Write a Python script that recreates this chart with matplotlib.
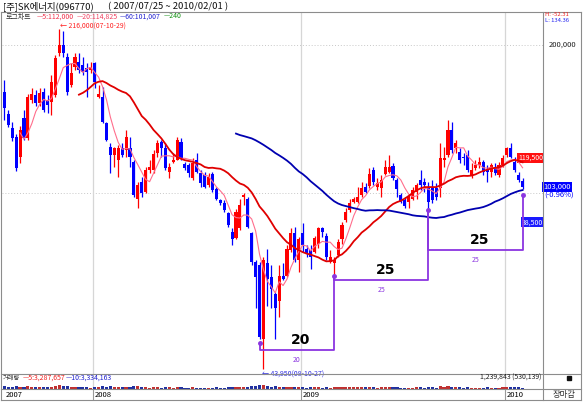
import numpy as np
import pandas as pd
import matplotlib
matplotlib.use("Agg")
import matplotlib.pyplot as plt
from matplotlib.lines import Line2D
from matplotlib.patches import Rectangle
from matplotlib.transforms import blended_transform_factory

plt.rcParams['font.family'] = ['Noto Sans CJK KR', 'DejaVu Sans']

# weekly candles, 2007/07/23 week .. 2010/02/01 week
opens = [160500, 145000, 135500, 130000, 118500, 142000, 129500, 154500, 158500, 152500,
         160500, 154500, 153000, 158500, 192500, 200000, 189000, 166000, 180500, 185000,
         182000, 179500, 178000, 184000, 157000, 157000, 139000, 124000, 119500, 116500,
         123500, 122500, 123500, 115500, 97500, 105500, 100500, 111500, 111500, 120500,
         127000, 123500, 110500, 115500, 117000, 127000, 114500, 114000, 107500, 116500,
         110000, 109000, 104000, 109500, 102000, 97000, 95500, 91000, 83500, 81000,
         85000, 98000, 97500, 83000, 72500, 71500, 50500, 72000, 67500, 62500,
         60500, 68000, 68000, 76500, 83000, 73000, 83000, 77000, 76500, 76000,
         79000, 85000, 82000, 72500, 72000, 75000, 80500, 88000, 92500, 96000,
         96000, 99000, 103000, 103500, 111500, 103000, 102500, 109500, 110500, 113500,
         106500, 99000, 97000, 96000, 97500, 100500, 106500, 105500, 103000, 102500,
         102500, 102500, 116500, 119500, 134500, 123500, 121000, 118500, 119500, 109000,
         112500, 114000, 115500, 111500, 110500, 113000, 109000, 114000, 119500, 123500,
         115500, 109000, 106000]
highs = [170000, 147500, 139500, 132000, 137000, 147500, 159000, 163500, 162000, 163500,
         163500, 158500, 174000, 191000, 216000, 213500, 192500, 184000, 192500, 192500,
         189000, 184000, 185000, 185000, 166000, 164500, 139500, 126500, 124000, 125000,
         126500, 134500, 130000, 116500, 105500, 108000, 113000, 116500, 122500, 128000,
         128000, 126500, 115000, 120500, 130000, 129500, 115500, 115000, 118000, 120500,
         111500, 110500, 110000, 110500, 103000, 97500, 97000, 91500, 85000, 93000,
         97500, 100000, 98000, 83500, 73000, 72500, 74000, 77000, 71500, 63000,
         71500, 72000, 78500, 85000, 85500, 81500, 87000, 78500, 78500, 82000,
         85500, 85500, 83000, 76500, 74000, 80500, 87500, 93500, 97500, 98000,
         103000, 105500, 105000, 112500, 113000, 107500, 109000, 116500, 119500, 115000,
         107500, 100000, 98000, 99000, 103000, 105000, 111500, 107500, 105500, 106500,
         105000, 126500, 124000, 141000, 139500, 128000, 123500, 120500, 122500, 115000,
         116500, 118500, 116500, 114000, 115000, 115000, 115500, 119500, 124000, 126500,
         118500, 110500, 107500]
lows = [141000, 136000, 127500, 111000, 115000, 128000, 128000, 152500, 150500, 150500,
        146000, 145500, 144000, 157000, 190000, 189000, 158500, 164500, 178000, 175500,
        174000, 157000, 175500, 163500, 156000, 139000, 127500, 110000, 113000, 108000,
        118500, 118500, 113000, 98000, 93500, 98000, 100000, 110000, 110000, 118500,
        118500, 111500, 107500, 115000, 116500, 116500, 111500, 108000, 106500, 110000,
        103000, 102500, 103000, 100500, 97000, 94500, 91500, 85500, 78500, 80500,
        84000, 94500, 85000, 71500, 58500, 50500, 43950, 59000, 58500, 50500,
        56000, 66500, 67500, 76000, 72500, 69000, 76000, 74000, 70000, 75500,
        77500, 81500, 73000, 72000, 68000, 74000, 79000, 87500, 91500, 95500,
        95500, 98000, 100000, 102500, 104000, 101500, 98000, 109000, 110000, 106500,
        98000, 95500, 93500, 93500, 97000, 97500, 101500, 100500, 92500, 95500,
        97000, 98000, 113000, 118500, 120500, 120500, 115000, 114000, 110500, 107500,
        111500, 112500, 109000, 105500, 108000, 109000, 108000, 113000, 118500, 118000,
        110500, 105500, 102000]
closes = [149000, 137500, 129500, 112500, 134500, 129500, 157000, 159000, 152500, 159500,
          147500, 151000, 168000, 188000, 200000, 192500, 160500, 175500, 189000, 178000,
          176500, 176500, 180500, 168000, 159000, 139500, 128000, 119500, 123500, 123500,
          119500, 130000, 118500, 99000, 104000, 100000, 111500, 113000, 120000, 126500,
          123500, 112500, 113000, 117000, 128000, 118000, 112500, 110000, 115000, 110500,
          105000, 103000, 108000, 101500, 97500, 95500, 92500, 86000, 80500, 91500,
          94500, 99000, 85500, 72500, 67500, 51000, 73000, 67000, 64000, 58500,
          68000, 67000, 77000, 83000, 73000, 80500, 78500, 75500, 74000, 81000,
          85000, 83500, 74000, 74000, 73000, 79500, 86000, 91500, 95500, 97500,
          98000, 102500, 100500, 109500, 105500, 105000, 106500, 113000, 113000, 107500,
          102000, 96000, 94000, 98000, 101500, 104000, 104000, 104000, 96000, 97000,
          98000, 118000, 118000, 134500, 122500, 126500, 116500, 118000, 111500, 111500,
          114000, 115500, 110500, 110500, 114000, 110000, 114000, 118000, 123500, 118500,
          111500, 106500, 103000]
# weekly volume, thousand shares
volumes = [5200, 4100, 3800, 5600, 4700, 3900, 5100, 3600, 3300, 3500, 3900, 3400, 4800,
           6100, 7200, 5400, 6800, 4500, 4200, 3600, 3100, 4400, 2900, 3500, 4600, 5300,
           4900, 5800, 4100, 4400, 3200, 3700, 4000, 6200, 5100, 3900, 4300, 3000, 3600,
           3800, 2900, 3500, 3300, 2800, 3400, 3100, 2700, 2900, 3300, 2800, 3000, 2600,
           2500, 2900, 3100, 2400, 2600, 3500, 4200, 4800, 4100, 3200, 3900, 5300, 6700,
           7400, 8100, 5600, 4900, 5200, 4600, 3500, 3900, 4300, 3600, 3800, 3100, 2900,
           3200, 3500, 3700, 2800, 3400, 3000, 3300, 3600, 4100, 4400, 4000, 3500, 3800,
           3600, 3100, 4200, 3700, 3000, 3400, 3900, 4100, 3300, 3100, 2900, 2700, 2800,
           3000, 3200, 3400, 2900, 3300, 3100, 2800, 5900, 4300, 6100, 4700, 3500, 3300,
           2900, 3400, 3000, 2700, 2600, 2900, 3100, 2800, 2600, 3000, 3200, 3600, 3400,
           3500, 3100, 1240]

year_names = ["2008", "2009", "2010"]
year_first_week = [23, 76, 128]

# cycle lows (week index) and the labelled spans
cycle_idx = [65, 84, 108, 132]
cycle_top = [49500, 68000, 92500, 99000]
cycle_base = [48000, 66500, 76500]
cycle_len = ["20", "25", "25"]

ma_periods = [5, 20, 60]
ma_colors = ['#FF6E8C', '#E00000', '#0000B0']
ma_widths = [0.8, 1.3, 1.3]

W, H = 583, 403
fig = plt.figure(figsize=(W / 100, H / 100), dpi=100)


def fx(px):
    return px / W


def fy(py):
    return 1 - py / H


def fig_line(x0, y0, x1, y1, c='#8C8C8C', lw=0.8):
    fig.add_artist(Line2D([fx(x0), fx(x1)], [fy(y0), fy(y1)], color=c, lw=lw))


def fig_text(x, y, s, **kw):
    fig.text(fx(x), fy(y), s, va='center', **kw)


opens = np.array(opens, float)
highs = np.array(highs, float)
lows = np.array(lows, float)
closes = np.array(closes, float)
x = np.arange(len(closes))
col = np.where(closes >= opens, '#FF0000', '#0000FF')

# ---- price panel
ax = fig.add_axes([fx(2), fy(374), fx(543) - fx(2), fy(12) - fy(374)])
ax.set_yscale('log')
ax.set_xlim(-0.6, 137.2)
ax.set_ylim(42900, 233400)
ax.axis('off')

for lvl in [200000, 100000]:
    ax.axhline(lvl, color='#C8C8C8', lw=0.7, ls=(0, (1, 2)), zorder=0)
for w in year_first_week:
    ax.axvline(w - 0.5, color='#D6D6D6', lw=0.9, zorder=0)

ax.vlines(x, lows, highs, colors=col, lw=0.9, zorder=2)
ax.bar(x, np.abs(closes - opens), bottom=np.minimum(opens, closes), width=0.78,
       color=col, lw=0, zorder=3)

s = pd.Series(closes)
for p, c, lw in zip(ma_periods, ma_colors, ma_widths):
    ax.plot(x, s.rolling(p).mean(), color=c, lw=lw, zorder=4)

# cycle annotation
pc = '#8B35E0'
for k in range(len(cycle_len)):
    a, b = cycle_idx[k], cycle_idx[k + 1]
    base = cycle_base[k]
    ax.plot([a, a, b, b], [cycle_top[k], base, base, cycle_top[k + 1]], color=pc, lw=1.3, zorder=5)
    mid = (a + b) / 2 + 1
    ax.annotate(cycle_len[k], (mid, base), xytext=(0, 2.5), textcoords='offset points',
                ha='center', va='bottom', fontsize=10, fontweight='bold', color='black',
                family=['DejaVu Sans'])
    ax.annotate(cycle_len[k], (mid - 1, base), xytext=(0, -4), textcoords='offset points',
                ha='center', va='top', fontsize=5, color=pc)
ax.plot(cycle_idx, cycle_top, ls='none', marker='o', ms=2.5, color=pc, zorder=6)

ih = int(np.argmax(highs))
il = int(np.argmin(lows))
ax.annotate("← 216,000(07-10-29)", (ih, highs[ih]), xytext=(0.5, 1.5), textcoords='offset points',
            ha='left', va='center', fontsize=5, color='#FF2020')
ax.annotate("← 43,950(08-10-27)", (il, lows[il]), xytext=(-1, -1), textcoords='offset points',
            ha='left', va='top', fontsize=5, color='#3030E0')

tr = blended_transform_factory(ax.transAxes, ax.transData)
ax.text(1.0, 118000, "119,500", transform=tr, ha='right', va='center', fontsize=5,
        color='white', bbox=dict(boxstyle='square,pad=0.15', fc='#FF1010', ec='none'), clip_on=False)
ax.text(1.0, 103000, "103,000", transform=tr, ha='left', va='center', fontsize=5.5,
        color='white', bbox=dict(boxstyle='square,pad=0.15', fc='#0000FF', ec='none'), clip_on=False)
ax.text(1.003, 99000, "(-0.96%)", transform=tr, ha='left', va='center', fontsize=5.5,
        color='#0000FF', clip_on=False)
ax.text(1.0, 87300, "38,500", transform=tr, ha='right', va='center', fontsize=5,
        color='white', bbox=dict(boxstyle='square,pad=0.15', fc='#1A1AFF', ec='none'), clip_on=False)
ax.text(1.01, 200000, "200,000", transform=tr, ha='left', va='center', fontsize=5.5,
        color='#202020', clip_on=False)

# ---- volume panel
axv = fig.add_axes([fx(2), fy(389), fx(543) - fx(2), fy(374) - fy(389)])
axv.set_xlim(-0.6, 137.2)
axv.set_ylim(0, 30000)
axv.axis('off')
for w in year_first_week:
    axv.axvline(w - 0.5, color='#D6D6D6', lw=0.9, zorder=0)
axv.bar(x, volumes, width=0.8, color=np.where(closes >= opens, '#C03030', '#2030A0'), lw=0)

# ---- date row
axd = fig.add_axes([fx(2), fy(400), fx(543) - fx(2), fy(389) - fy(400)])
axd.set_xlim(-0.6, 137.2)
axd.set_ylim(0, 1)
axd.axis('off')
axd.text(0.3, 0.45, "2007", fontsize=5.5, va='center', ha='left')
for w, name in zip(year_first_week, year_names):
    axd.axvline(w - 0.5, color='#9A9A9A', lw=0.8)
    axd.text(w - 0.1, 0.45, name, fontsize=5.5, va='center', ha='left')

# ---- frame
fig_line(1, 12, 581, 12)
fig_line(1, 12, 1, 400)
fig_line(581, 12, 581, 400)
fig_line(1, 400, 581, 400)
fig_line(543, 12, 543, 400)
fig_line(1, 374, 581, 374)
fig_line(1, 389, 581, 389)

# ---- header texts
fig_text(3, 6.5, "[주]SK에너지(096770)", fontsize=6.8, color='#101010')
fig_text(108, 6.5, "( 2007/07/25 ~ 2010/02/01 )", fontsize=6.8, color='#101010')
fig_text(6, 16.5, "로그차트", fontsize=5, color='#303030')
fig_text(37, 16.5, "—5:112,000", fontsize=5, color='#F0304A')
fig_text(77, 16.5, "—20:114,825", fontsize=5, color='#F04060')
fig_text(120, 16.5, "—60:101,007", fontsize=5, color='#2020D0')
fig_text(164, 16.5, "—240", fontsize=5, color='#109010')
fig_text(545, 15, "H: -52.31", fontsize=4.2, color='#F02020')
fig_text(545, 21, "L: 134.36", fontsize=4.2, color='#2020F0')

fig_text(3, 378, "거래량", fontsize=4.5, color='#303030')
fig_text(23, 378, "—5:3,287,657", fontsize=5, color='#F02020')
fig_text(66, 378, "—10:3,334,163", fontsize=5, color='#2020D0')
fig_text(480, 378, "1,239,843 (530,139)", fontsize=5, color='#202020')
fig.add_artist(Rectangle((fx(567), fy(380)), fx(4), fy(376) - fy(380), color='#101010',
                         transform=fig.transFigure))
fig_text(553, 394.5, "장마감", fontsize=6, color='#303030')

fig.savefig("out.png", dpi=100)
